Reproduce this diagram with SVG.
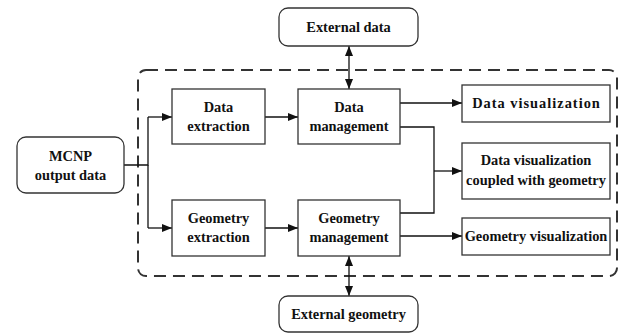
<svg xmlns="http://www.w3.org/2000/svg" width="622" height="334" viewBox="0 0 622 334">
<defs>
<marker id="ah" viewBox="0 0 10 8" refX="10" refY="4" markerWidth="10" markerHeight="8" markerUnits="userSpaceOnUse" orient="auto-start-reverse">
<path d="M0,0 L10,4 L0,8 Z" fill="#111"/>
</marker>
</defs>
<style>
.box{fill:#fff;stroke:#333;stroke-width:1.3}
.t{font-family:"Liberation Serif","Times New Roman",serif;font-weight:bold;font-size:14.4px;fill:#111;text-anchor:middle}
.c{fill:none;stroke:#111;stroke-width:1.3}
.dash{fill:none;stroke:#333;stroke-width:2;stroke-dasharray:12,7}
</style>
<rect width="622" height="334" fill="#fff"/>
<rect class="dash" x="138" y="70" width="479" height="206" rx="8"/>
<g id="connectors">
<path class="c" d="M124,165 H148 V117"/>
<path class="c" d="M148,165 V228"/>
<path class="c" d="M148,117 H172" marker-end="url(#ah)"/>
<path class="c" d="M148,228 H172" marker-end="url(#ah)"/>
<path class="c" d="M265,117 H298" marker-end="url(#ah)"/>
<path class="c" d="M265,228 H298" marker-end="url(#ah)"/>
<path class="c" d="M400,103 H462" marker-end="url(#ah)"/>
<path class="c" d="M400,127 H434 V213 H400"/>
<path class="c" d="M434,171 H462" marker-end="url(#ah)"/>
<path class="c" d="M400,236 H462" marker-end="url(#ah)"/>
<path class="c" d="M349,46 V89" marker-start="url(#ah)" marker-end="url(#ah)"/>
<path class="c" d="M349,256 V296" marker-start="url(#ah)" marker-end="url(#ah)"/>
</g>
<g id="external-data"><rect class="box" x="279" y="8" width="139" height="38" rx="9"/><text class="t" x="348.5" y="32">External data</text></g>
<g id="mcnp"><rect class="box" x="17" y="137" width="107" height="56" rx="9"/><text class="t" x="70.5" y="161">MCNP</text><text class="t" x="70.5" y="180">output data</text></g>
<g id="data-extraction"><rect class="box" x="172" y="89" width="93" height="55"/><text class="t" x="218.5" y="112">Data</text><text class="t" x="218.5" y="131">extraction</text></g>
<g id="data-management"><rect class="box" x="298" y="89" width="102" height="55"/><text class="t" x="349" y="112">Data</text><text class="t" x="349" y="131">management</text></g>
<g id="geometry-extraction"><rect class="box" x="172" y="200" width="93" height="56"/><text class="t" x="218.5" y="223">Geometry</text><text class="t" x="218.5" y="242">extraction</text></g>
<g id="geometry-management"><rect class="box" x="298" y="200" width="102" height="56"/><text class="t" x="349" y="223">Geometry</text><text class="t" x="349" y="242">management</text></g>
<g id="data-visualization"><rect class="box" x="462" y="85" width="148" height="37"/><text class="t" x="536.5" y="108" letter-spacing="1">Data visualization</text></g>
<g id="data-vis-coupled"><rect class="box" x="462" y="143" width="148" height="56"/><text class="t" x="536" y="165">Data visualization</text><text class="t" x="536" y="185">coupled with geometry</text></g>
<g id="geometry-visualization"><rect class="box" x="462" y="218" width="148" height="37"/><text class="t" x="536" y="241">Geometry visualization</text></g>
<g id="external-geometry"><rect class="box" x="279" y="296" width="139" height="36" rx="9"/><text class="t" x="348.5" y="319">External geometry</text></g>
</svg>
